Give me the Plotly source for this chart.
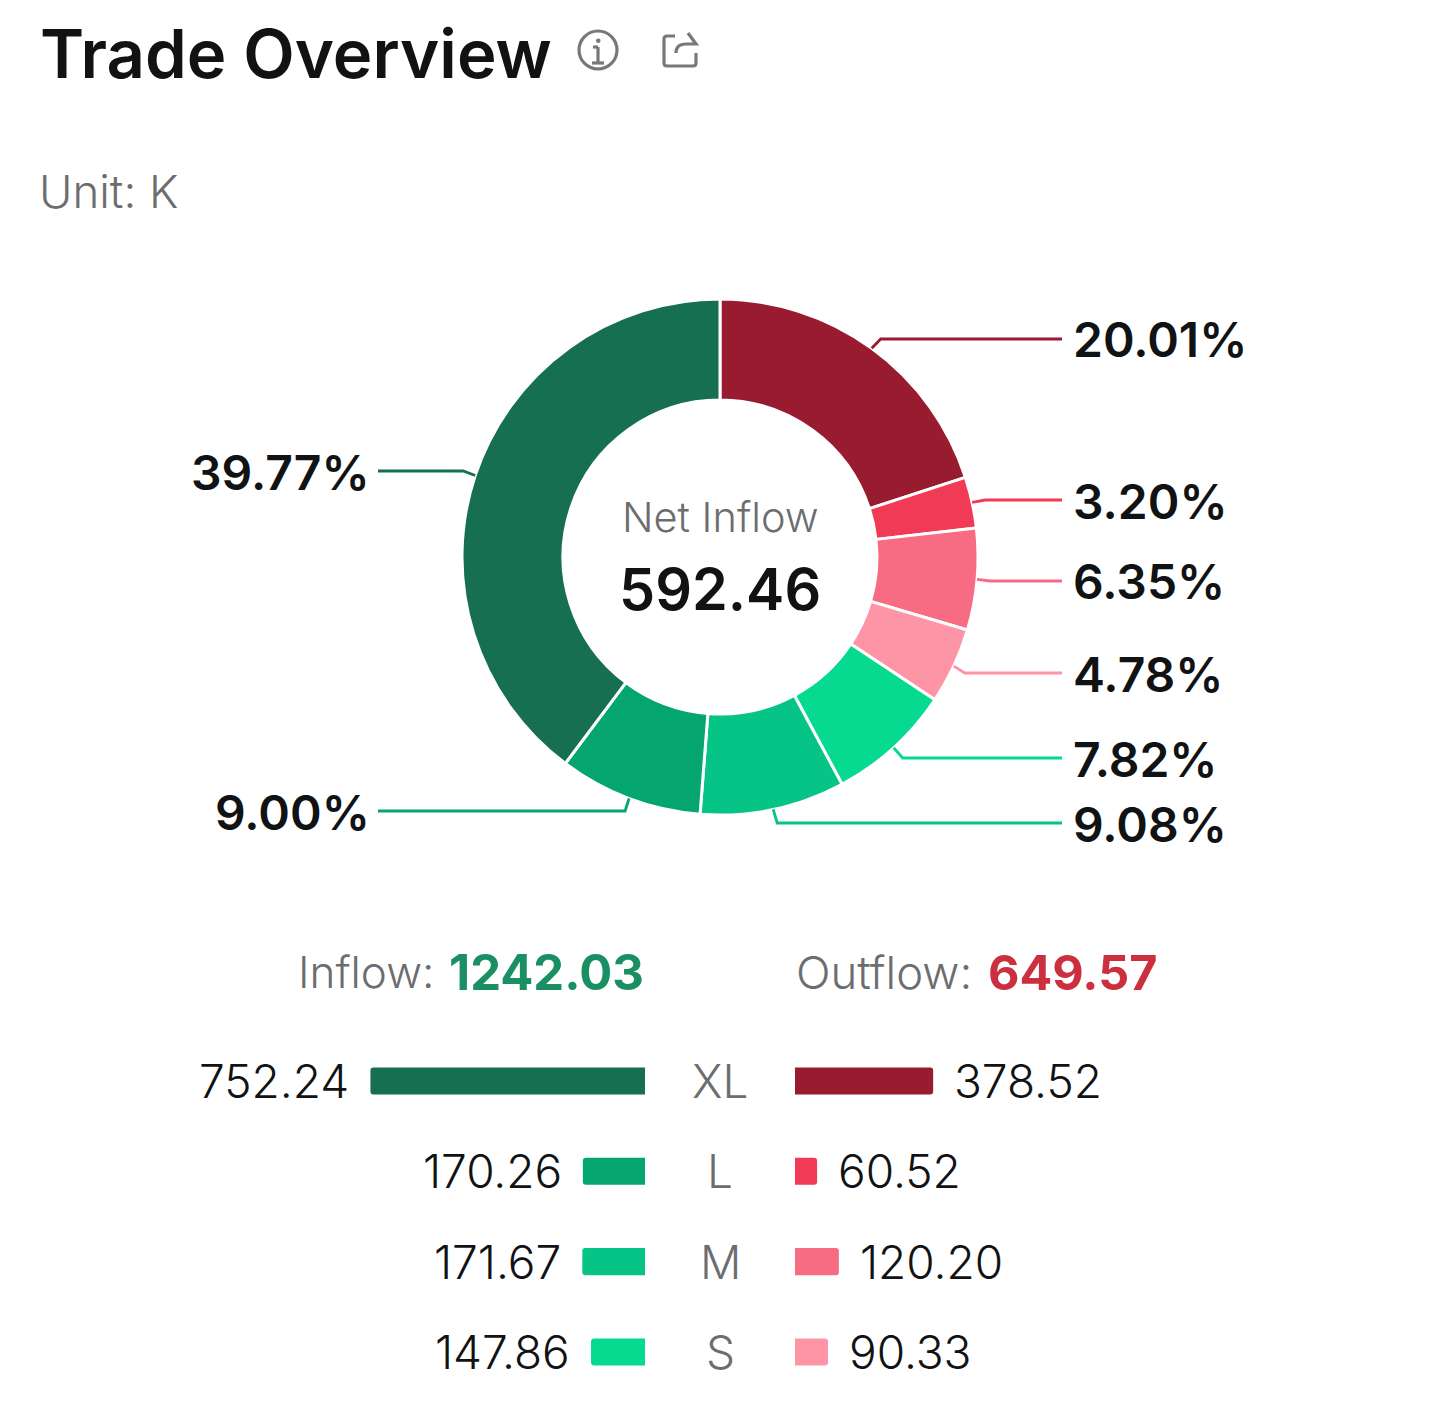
import math
import plotly.graph_objects as go

# Trade flow by order size, in thousands
sizes = ["XL", "L", "M", "S"]
inflow = [752.24, 170.26, 171.67, 147.86]
outflow = [378.52, 60.52, 120.20, 90.33]
inflow_total = 1242.03
outflow_total = 649.57
net_inflow = 592.46

inflow_colors = ["#156F50", "#05A56F", "#06C386", "#06DA91"]
outflow_colors = ["#981B2F", "#F03A56", "#F76B83", "#FD95A6"]

# Donut runs clockwise from 12 o'clock: outflow XL..S, then inflow S..XL
ring_values = outflow + inflow[::-1]
ring_colors = outflow_colors + inflow_colors[::-1]

W, H = 1440, 1415
CX, CY, R_OUT, R_IN = 720, 557, 258, 157
PX_PER_UNIT = 0.3650
INNER_LEFT, INNER_RIGHT = 645, 795
ROW_TOP, ROW_STEP = 1081, 90.33

INK = "#111214"
GREY = "#6C6D70"
FONT = "Inter"


def fx(px):
    return px / W


def fy(px):
    return 1 - px / H


def text(x, y, s, size, color=INK, weight=400, anchor="left"):
    return dict(
        x=fx(x), y=fy(y), xref="paper", yref="paper", text=s, showarrow=False,
        xanchor=anchor, yanchor="middle", align=anchor,
        font=dict(family=FONT, size=size, color=color, weight=weight),
    )


fig = go.Figure()

fig.add_trace(go.Pie(
    values=ring_values,
    labels=[f"Out {s}" for s in sizes] + [f"In {s}" for s in sizes[::-1]],
    sort=False, direction="clockwise", rotation=0,
    hole=R_IN / R_OUT, textinfo="none", showlegend=False,
    marker=dict(colors=ring_colors, line=dict(color="#FFFFFF", width=3)),
    domain=dict(x=[fx(CX - R_OUT), fx(CX + R_OUT)], y=[fy(CY + R_OUT), fy(CY - R_OUT)]),
))

# Size bars, mirrored around the central column of size names
row_area_top = ROW_TOP - ROW_STEP / 2
row_area_bottom = row_area_top + 4 * ROW_STEP
fig.add_trace(go.Bar(y=sizes, x=inflow, orientation="h", xaxis="x", yaxis="y",
                     marker=dict(color=inflow_colors, line_width=0), showlegend=False))
fig.add_trace(go.Bar(y=sizes, x=outflow, orientation="h", xaxis="x2", yaxis="y2",
                     marker=dict(color=outflow_colors, line_width=0), showlegend=False))

annotations = [
    text(38, 54, "Trade Overview", 67, weight=600),
    text(37, 191, "Unit: K", 45.5, GREY, 300),
    text(CX, 517, "Net Inflow", 41.5, GREY, 300, "center"),
    text(CX, 589, f"{net_inflow:.2f}", 57.5, INK, 600, "center"),
    text(436, 972, "Inflow:", 44, GREY, 300, "right"),
    text(447, 972, f"{inflow_total:.2f}", 49, "#1A8F63", 700),
    text(794, 972, "Outflow:", 45.5, GREY, 300),
    text(986, 972, f"{outflow_total:.2f}", 48.5, "#CC2F3D", 700),
]

for i, s in enumerate(sizes):
    row_y = ROW_TOP + i * ROW_STEP
    annotations.append(text(CX, row_y, s, 46, GREY, 300, "center"))
    annotations.append(dict(
        x=inflow[i], y=s, xref="x", yref="y", text=f"{inflow[i]:.2f}", showarrow=False,
        xanchor="right", yanchor="middle", xshift=-19,
        font=dict(family=FONT, size=46, color=INK, weight=300),
    ))
    annotations.append(dict(
        x=outflow[i], y=s, xref="x2", yref="y2", text=f"{outflow[i]:.2f}", showarrow=False,
        xanchor="left", yanchor="middle", xshift=19,
        font=dict(family=FONT, size=46, color=INK, weight=300),
    ))

# Leader lines start on each slice's mid-angle and bend toward its percentage label
label_rows = [339, 500, 581, 673, 758, 823, 811, 471]
elbow_shift = [9, 13, 13, 11, 9, 4, -4, -12]
label_end_right, label_end_left = 1062, 378
shapes = []
total = sum(ring_values)
running = 0.0
for value, color, row, shift in zip(ring_values, ring_colors, label_rows, elbow_shift):
    share = value / total
    angle = 2 * math.pi * (running + share / 2)
    running += share
    sx = CX + R_OUT * math.sin(angle)
    sy = CY - R_OUT * math.cos(angle)
    right_side = sx > CX
    end_x = label_end_right if right_side else label_end_left
    path = f"M {fx(sx):.5f} {fy(sy):.5f} L {fx(sx + shift):.5f} {fy(row):.5f} L {fx(end_x):.5f} {fy(row):.5f}"
    shapes.append(dict(type="path", path=path, xref="paper", yref="paper",
                       line=dict(color=color, width=2.8), layer="above"))
    label = f"{share * 100:.2f}%"
    annotations.append(text(end_x + 9 if right_side else end_x - 6, row + 1, label, 48, INK, 600,
                            "left" if right_side else "right"))

# Info and share glyphs beside the heading
ICON = "#77787A"
stroke = dict(color=ICON, width=3.2)
shapes.append(dict(type="circle", xref="paper", yref="paper",
                   x0=fx(579), x1=fx(617), y0=fy(69), y1=fy(31), line=stroke))
for x0, y0, x1, y1 in [(598, 47, 598, 62), (593, 47, 598, 47), (592, 63, 604, 63)]:
    shapes.append(dict(type="line", xref="paper", yref="paper",
                       x0=fx(x0), y0=fy(y0), x1=fx(x1), y1=fy(y1), line=stroke))
shapes.append(dict(type="circle", xref="paper", yref="paper", fillcolor=ICON,
                   x0=fx(596), x1=fx(600.5), y0=fy(43), y1=fy(38.5), line=dict(width=0)))


def pt(x, y):
    return f"{fx(x):.5f} {fy(y):.5f}"


box_path = (f"M {pt(675, 36)} L {pt(667, 36)} Q {pt(664, 36)} {pt(664, 39)} L {pt(664, 63)} "
            f"Q {pt(664, 66)} {pt(667, 66)} L {pt(693, 66)} Q {pt(696, 66)} {pt(696, 63)} L {pt(696, 53)}")
arrow_path = (f"M {pt(676, 53)} Q {pt(676, 44)} {pt(686, 44)} L {pt(696, 44)} "
              f"L {pt(688, 33)}")
shapes.append(dict(type="path", xref="paper", yref="paper", line=stroke, path=box_path))
shapes.append(dict(type="path", xref="paper", yref="paper", line=stroke, path=arrow_path))

max_units = INNER_LEFT / PX_PER_UNIT
hidden = dict(visible=False, fixedrange=True)
y_common = dict(
    visible=False, type="category", categoryorder="array", categoryarray=sizes,
    autorange="reversed", fixedrange=True,
    domain=[fy(row_area_bottom), fy(row_area_top)],
)

fig.update_layout(
    width=W, height=H,
    margin=dict(l=0, r=0, t=0, b=0),
    paper_bgcolor="#FFFFFF", plot_bgcolor="#FFFFFF",
    bargap=0.7, barcornerradius=3,
    xaxis=dict(domain=[0, fx(INNER_LEFT)], range=[max_units, 0], **hidden),
    xaxis2=dict(domain=[fx(INNER_RIGHT), 1], range=[0, (W - INNER_RIGHT) / PX_PER_UNIT], **hidden),
    yaxis=dict(anchor="x", **y_common),
    yaxis2=dict(anchor="x2", **y_common),
    annotations=annotations,
    shapes=shapes,
)

fig.write_html("out.html", config=dict(displayModeBar=False))
